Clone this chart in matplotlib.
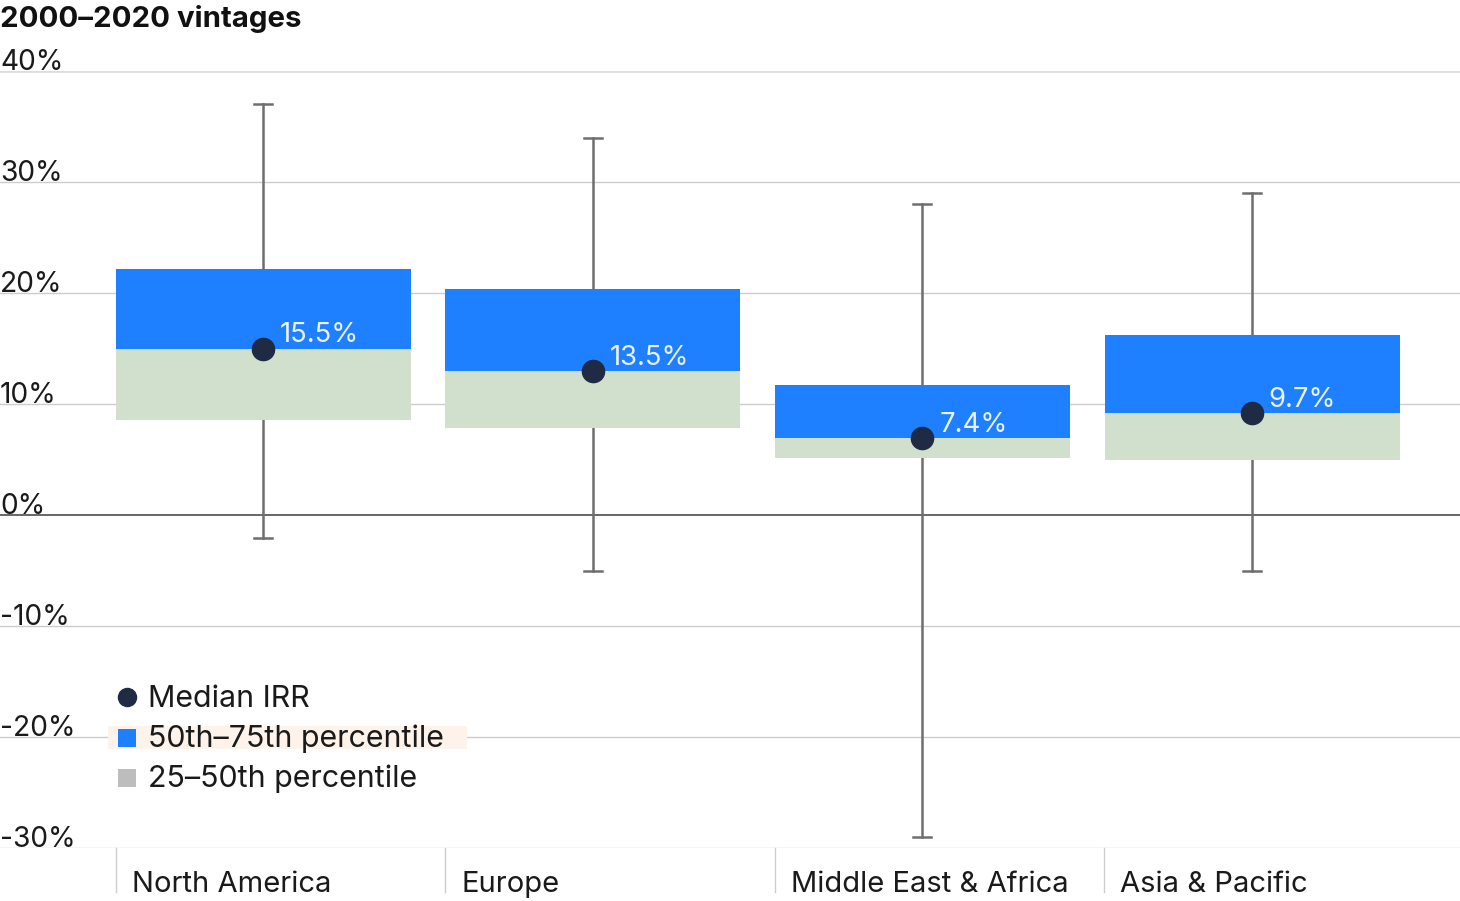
import matplotlib
matplotlib.use("Agg")
import matplotlib.pyplot as plt
from matplotlib.patches import Rectangle
import matplotlib.transforms as mtrans

plt.rcParams['font.family'] = ['Inter', 'DejaVu Sans']

regions = ["North America", "Europe", "Middle East & Africa", "Asia & Pacific"]
whisker_low = [-2.1, -5.0, -29.0, -5.0]
q25 = [8.6, 7.8, 5.1, 5.0]
median = [15.0, 13.0, 6.9, 9.2]
q75 = [22.2, 20.4, 11.7, 16.2]
whisker_high = [37.0, 34.0, 28.0, 29.0]
median_labels = ["15.5%", "13.5%", "7.4%", "9.7%"]
yticks = [40, 30, 20, 10, 0, -10, -20, -30]
ytick_labels = ["40%", "30%", "20%", "10%", "0%", "-10%", "-20%", "-30%"]

W, H = 1460, 901
fig = plt.figure(figsize=(W / 100, H / 100), dpi=100)
ax = fig.add_axes([0, (H - 848) / H, 1, 777 / H])
ax.set_ylim(-30, 40)
step = 329.5
ax.set_xlim(-263.5 / step, (W - 263.5) / step)
ax.axis('off')

blue = '#1f80ff'
green = '#d0e0cc'
dark = '#1f2a44'
wcol = '#6e6e6e'

# grid lines + tick labels
for v, lab in zip(yticks, ytick_labels):
    if v == 0:
        ax.axhline(v, color='#666666', lw=1.4, zorder=1)
    elif v == 40:
        ax.axhline(v, color='#dedede', lw=2, zorder=1)
    else:
        ax.axhline(v, color='#cccccc', lw=1, zorder=1)
    ax.text(0, v + 0.12, lab, transform=ax.get_yaxis_transform(), ha='left', va='baseline',
            fontsize=20.3, color='#1a1a1a', zorder=5)

bw = 295 / step
cap = 9 / step
for i in range(len(regions)):
    ax.plot([i, i], [whisker_low[i], whisker_high[i]], color=wcol, lw=1.8, zorder=2)
    for yv in (whisker_low[i], whisker_high[i]):
        ax.plot([i - cap, i + cap], [yv, yv], color=wcol, lw=1.8, zorder=2)
    ax.bar(i, median[i] - q25[i], bottom=q25[i], width=bw, color=green, zorder=3)
    ax.bar(i, q75[i] - median[i], bottom=median[i], width=bw, color=blue, zorder=3)
    ax.plot(i, median[i], 'o', color=dark, markersize=16, zorder=4)
    ax.annotate(median_labels[i], (i, median[i]), xytext=(12, 0), textcoords='offset points',
                ha='left', va='bottom', fontsize=19.8, color='#eaf2ff', zorder=5)

# category strip below chart
for i, name in enumerate(regions):
    xl = i - bw / 2
    ax.plot([xl, xl], [-30, -34], color='#cccccc', lw=1, clip_on=False, zorder=1)
    ax.text(xl + 16 / step, -34.0, name, ha='left', va='baseline', fontsize=21,
            color='#1a1a1a', clip_on=False)

# title
fig.text(0, (H - 27) / H, "2000\u20132020 vintages", ha='left', va='baseline',
         fontsize=21.2, fontweight='bold', color='#111111')

# legend
px = mtrans.IdentityTransform()
def fy(y):
    return H - y
fig.patches.append(Rectangle((108, fy(749)), 359, 23, transform=px, facecolor='#fdf3ea',
                             edgecolor='none', zorder=0))
fig.lines.append(plt.Line2D([127], [fy(697)], marker='o', color=dark, markersize=13,
                            transform=px, linestyle='none'))
fig.patches.append(Rectangle((118, fy(747)), 18, 18, transform=px, facecolor=blue,
                             edgecolor='none', zorder=1))
fig.patches.append(Rectangle((118, fy(787)), 18, 18, transform=px, facecolor='#bdbdbd',
                             edgecolor='none', zorder=1))
for yy, lab in [(699, "Median IRR"), (739, "50th\u201375th percentile"), (779, "25\u201350th percentile")]:
    fig.text(148 / W, fy(yy) / H, lab, ha='left', va='center', fontsize=21.9, color='#1a1a1a')

fig.savefig("out.png", dpi=100)
